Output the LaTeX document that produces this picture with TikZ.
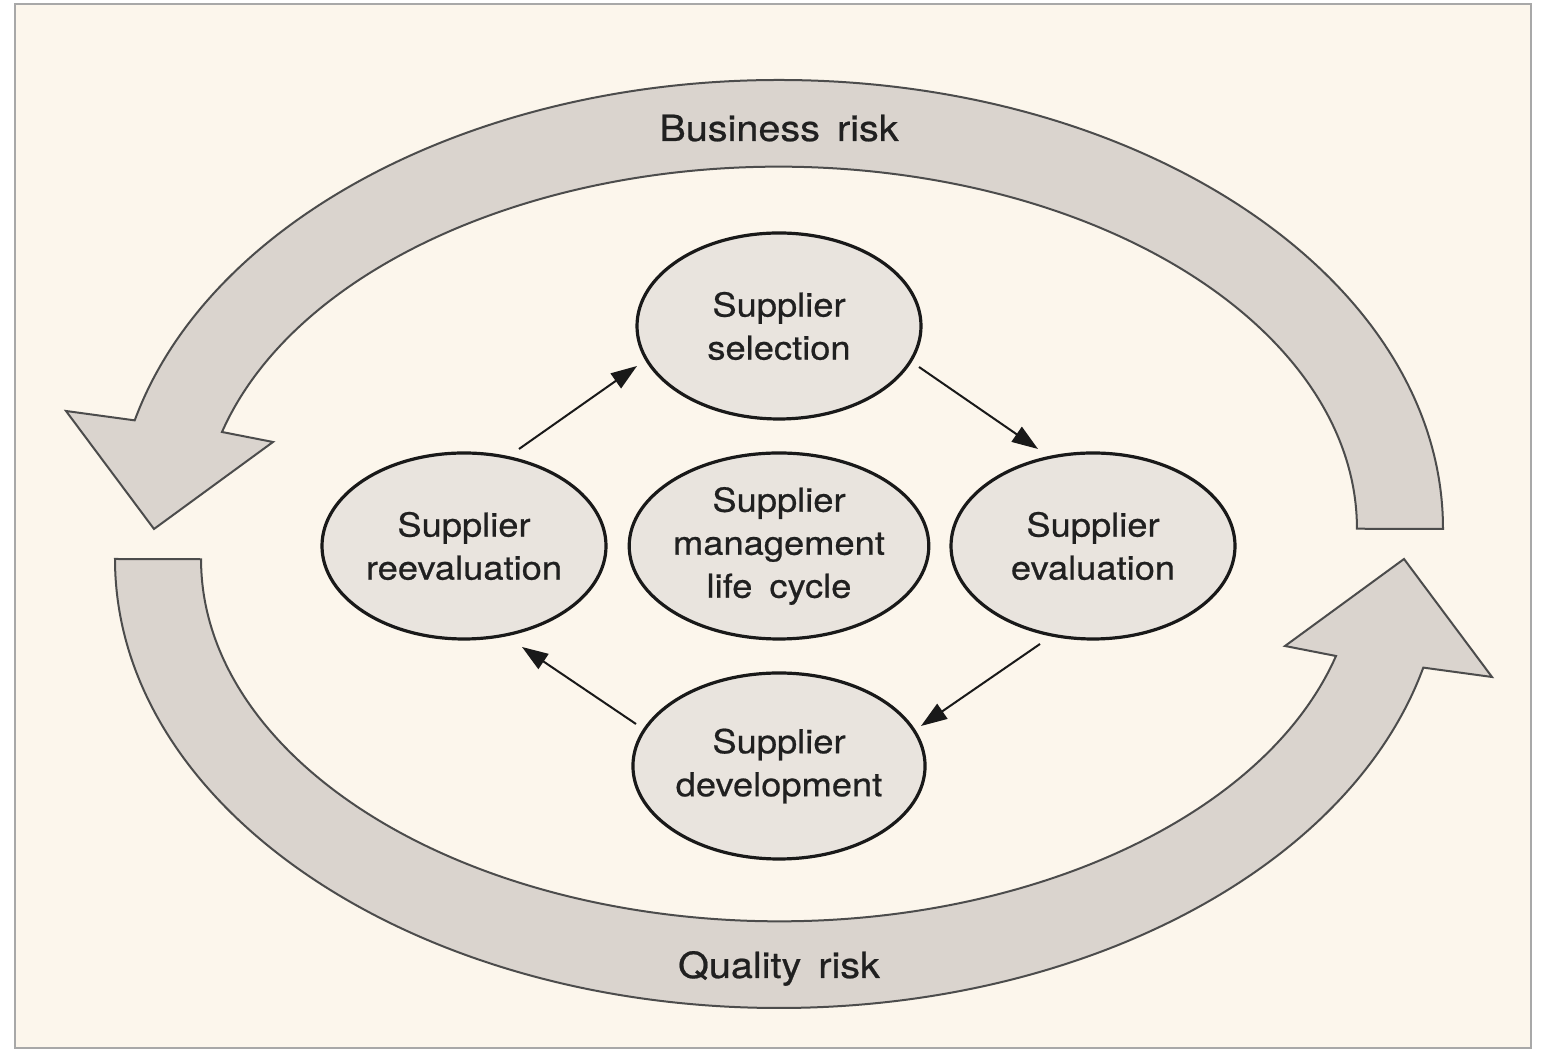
\documentclass[tikz,border=0pt]{standalone}
\usepackage{fontspec}
\setmainfont{TeX Gyre Heros}[FakeStretch=1.1,FakeBold=0.6]
\usetikzlibrary{arrows.meta,shapes.geometric,calc}
\definecolor{bgcream}{HTML}{FCF6EC}
\definecolor{ellfill}{HTML}{E9E4DE}
\definecolor{bandfill}{HTML}{DAD4CE}
\definecolor{txt}{HTML}{202020}
\definecolor{frame}{HTML}{A8A8A8}
\begin{document}
\begin{tikzpicture}[x=1pt,y=1pt,
  phase/.style={ellipse, draw=black!90, line width=3.2pt, fill=ellfill,
    minimum width=284pt, minimum height=186pt, inner sep=0pt,
    align=center, text=txt, font=\fontsize{33}{43}\selectfont},
  band/.style={draw=black!70, line width=2pt, fill=bandfill, line join=miter},
  flow/.style={draw=black!90, line width=2pt, -{Triangle[length=26pt,width=18pt]}},
  risk/.style={text=txt, font=\fontsize{36}{43}\selectfont, anchor=base}]
\useasboundingbox (0,0) rectangle (1542,1051);
\fill[white] (0,0) rectangle (1542,1051);
\path[fill=bgcream, draw=frame, line width=2pt] (15,3) rectangle (1531,1047);
% top band (Business risk)
\path[band] (1443,522) arc[start angle=0,end angle=166,x radius=664,y radius=449]
  -- (66,640) -- (154,522) -- (273,609) -- (222,619)
  arc[start angle=164.5,end angle=0,x radius=578,y radius=362] -- cycle;
% bottom band (Quality risk)
\begin{scope}[rotate around={180:(779,507)}]
\path[band] (1443,522) arc[start angle=0,end angle=166,x radius=664,y radius=449]
  -- (66,640) -- (154,522) -- (273,609) -- (222,619)
  arc[start angle=164.5,end angle=0,x radius=578,y radius=362] -- cycle;
\end{scope}
\node[risk] (business) at (779,910) {Business\hspace{17pt}risk};
\node[risk] (quality) at (779,73) {Quality\hspace{17pt}risk};
% phases
\node[phase] (sel) at (779,725) {Supplier\\selection};
\node[phase] (core) at (779,505) {Supplier\\management\\life\hspace{17pt}cycle};
\node[phase] (reeval) at (464,505) {Supplier\\reevaluation};
\node[phase] (eval) at (1093,505) {Supplier\\evaluation};
\node[phase] (dev) at (779,285) {Supplier\\development};
% flows
\draw[flow] ($(reeval.center)+(55,97)$) -- ($(sel.center)+(-142,-40)$);
\draw[flow] ($(sel.center)+(140,-41)$) -- ($(eval.center)+(-55,97)$);
\draw[flow] ($(eval.center)+(-53,-98)$) -- ($(dev.center)+(142,40)$);
\draw[flow] ($(dev.center)+(-143,42)$) -- ($(reeval.center)+(58,-101)$);
\end{tikzpicture}
\end{document}
